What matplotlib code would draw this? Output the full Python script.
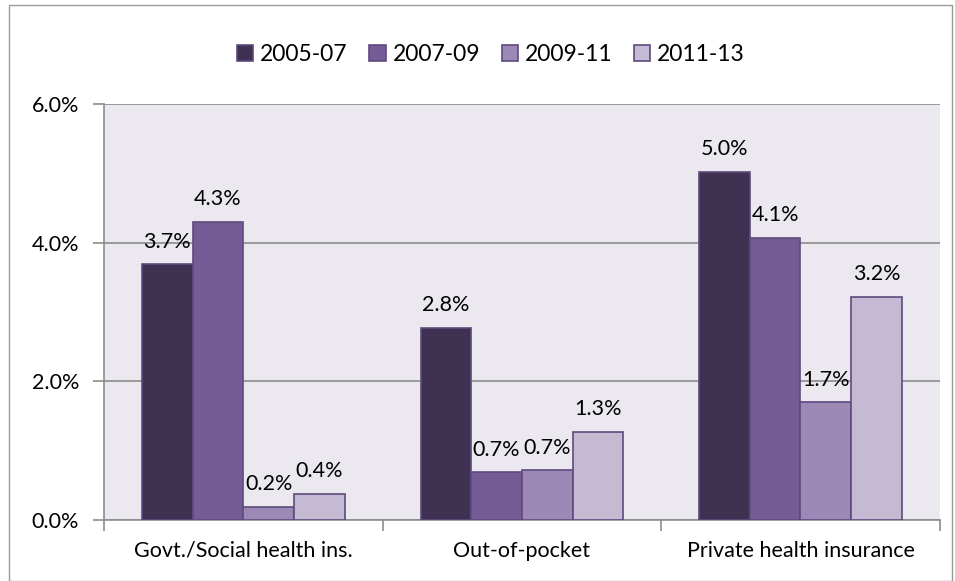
import matplotlib.pyplot as plt
import numpy as np
from matplotlib.patches import Rectangle

categories = ["Govt./Social health ins.", "Out-of-pocket", "Private health insurance"]
periods = ["2005-07", "2007-09", "2009-11", "2011-13"]
v_2005_07 = [3.69, 2.77, 5.02]
v_2007_09 = [4.30, 0.69, 4.07]
v_2009_11 = [0.19, 0.72, 1.70]
v_2011_13 = [0.375, 1.27, 3.22]
labels_2005_07 = ["3.7%", "2.8%", "5.0%"]
labels_2007_09 = ["4.3%", "0.7%", "4.1%"]
labels_2009_11 = ["0.2%", "0.7%", "1.7%"]
labels_2011_13 = ["0.4%", "1.3%", "3.2%"]
yticks = [0, 2, 4, 6]

series = [v_2005_07, v_2007_09, v_2009_11, v_2011_13]
labels = [labels_2005_07, labels_2007_09, labels_2009_11, labels_2011_13]
colors = ["#3F3152", "#765C97", "#9C89B5", "#C4BAD3"]
edge = "#5E4A7D"

plt.rcParams["font.family"] = ["Lato", "DejaVu Sans"]

fig = plt.figure(figsize=(9.55, 5.81), dpi=100)
ax = fig.add_axes([0.109, 0.105, 0.875, 0.716])
ax.set_facecolor("#EBE9EF")

fig.patches.append(Rectangle((0.009, 0.0), 0.988, 0.992, transform=fig.transFigure,
                             fill=False, edgecolor="#9A9A9A", linewidth=1.0))

x = np.arange(len(categories))
w = 0.182
for i, (vals, labs) in enumerate(zip(series, labels)):
    pos = x + (i - 1.5) * w
    bars = ax.bar(pos, vals, w, color=colors[i], edgecolor=edge, linewidth=1.2,
                  label=periods[i], zorder=3)
    for b, lab in zip(bars, labs):
        ax.annotate(lab, (b.get_x() + b.get_width() / 2, b.get_height()),
                    xytext=(0, 9), textcoords="offset points", ha="center",
                    va="bottom", fontsize=15.5, zorder=4)

ax.set_xlim(-0.5, 2.5)
ax.set_ylim(0, 6)
ax.set_yticks(yticks)
ax.set_yticklabels([f"{t:.1f}%" for t in yticks], fontsize=15.5)
ax.yaxis.grid(True, color="#8C8C8C", linewidth=1.2, zorder=1)
ax.set_xticks([-0.5, 0.5, 1.5, 2.5], minor=False)
ax.set_xticklabels([])
ax.set_xticks(x, minor=True)
ax.set_xticklabels(categories, minor=True, fontsize=15.5)
ax.tick_params(axis="x", which="minor", length=0, pad=15)
ax.tick_params(axis="x", which="major", length=8, color="#8C8C8C", width=1.2)
ax.tick_params(axis="y", length=8, color="#8C8C8C", width=1.2, pad=10)
for s in ["top", "right"]:
    ax.spines[s].set_visible(False)
for s in ["left", "bottom"]:
    ax.spines[s].set_color("#8C8C8C")
    ax.spines[s].set_linewidth(1.2)

ax.legend(loc="lower center", bbox_to_anchor=(0.463, 1.045), ncol=4, frameon=False,
          fontsize=16.5, handlelength=0.7, handleheight=0.7, handletextpad=0.3,
          columnspacing=0.95)

fig.savefig("out.png", dpi=100)
